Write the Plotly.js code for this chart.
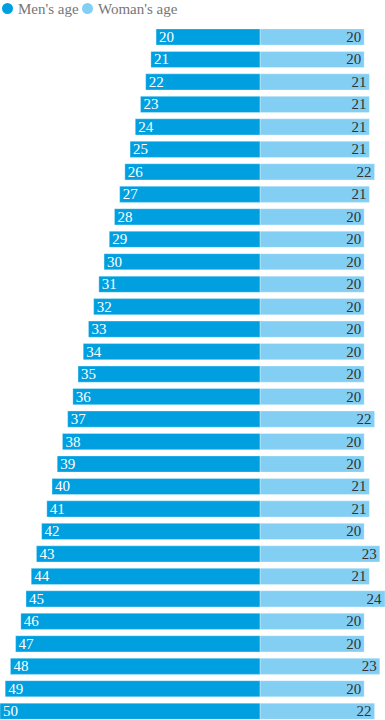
<!DOCTYPE html>
<html>
<head>
<meta charset="utf-8">
<script src="https://cdn.plot.ly/plotly-3.0.1.min.js"></script>
<style>
html,body{margin:0;padding:0;background:#fff;}
#chart{width:385px;height:720px;}
</style>
</head>
<body>
<div id="chart"></div>
<script>
const menAge = [20,21,22,23,24,25,26,27,28,29,30,31,32,33,34,35,36,37,38,39,40,41,42,43,44,45,46,47,48,49,50];
const womanAge = [20,20,21,21,21,21,22,21,20,20,20,20,20,20,20,20,20,22,20,20,21,21,20,23,21,24,20,20,23,20,22];
const seriesNames = ["Men's age", "Woman's age"];
const menColor = '#00a0e0';
const womanColor = '#82cff3';
const labelFont = 'Liberation Serif, Georgia, serif';

const traces = [
  {
    type: 'bar', orientation: 'h',
    y: menAge, x: menAge.map(v => -v), base: 0,
    text: menAge.map(String),
    textposition: 'inside', insidetextanchor: 'end', textangle: 0, constraintext: 'none',
    textfont: {family: labelFont, size: 15, color: '#ffffff'},
    marker: {color: menColor, line: {color: 'rgba(255,255,255,0.3)', width: 1}},
    width: 0.72, showlegend: false, hoverinfo: 'skip', cliponaxis: false
  },
  {
    type: 'bar', orientation: 'h',
    y: menAge, x: womanAge, base: 0,
    text: womanAge.map(String),
    textposition: 'inside', insidetextanchor: 'end', textangle: 0, constraintext: 'none',
    textfont: {family: labelFont, size: 15, color: '#333333'},
    marker: {color: womanColor, line: {color: 'rgba(255,255,255,0.3)', width: 1}},
    width: 0.72, showlegend: false, hoverinfo: 'skip', cliponaxis: false
  }
];

const legendItems = [
  {color: menColor, name: seriesNames[0], cx: 2, tx: 16},
  {color: womanColor, name: seriesNames[1], cx: 82, tx: 96}
];

const legendShapes = legendItems.map(d => ({
  type: 'circle', xref: 'paper', yref: 'paper',
  xsizemode: 'pixel', ysizemode: 'pixel', xanchor: 0, yanchor: 1,
  x0: d.cx, x1: d.cx + 11, y0: 11, y1: 22,
  fillcolor: d.color, line: {width: 0}
}));

const legendAnn = legendItems.map(d => ({
  xref: 'paper', yref: 'paper', x: 0, y: 1, xanchor: 'left', yanchor: 'middle',
  xshift: d.tx, yshift: 16, showarrow: false,
  text: d.name,
  font: {family: labelFont, size: 15, color: '#767676'}
}));

const layout = {
  width: 385, height: 720,
  margin: {l: 0, r: 0, t: 25, b: 0, pad: 0},
  paper_bgcolor: '#ffffff', plot_bgcolor: '#ffffff',
  barmode: 'overlay',
  xaxis: {range: [-50, 24], visible: false, fixedrange: true},
  yaxis: {range: [50.39, 19.466], visible: false, fixedrange: true},
  showlegend: false,
  shapes: legendShapes,
  annotations: legendAnn
};

Plotly.newPlot('chart', traces, layout, {staticPlot: true, displayModeBar: false});
</script>
</body>
</html>
